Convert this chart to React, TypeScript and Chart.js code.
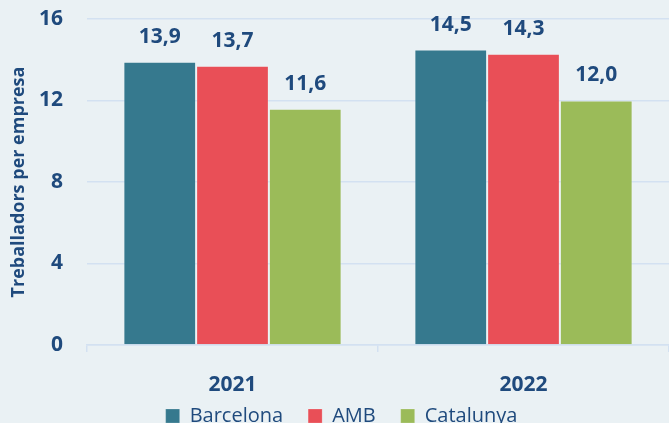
import React, { useEffect, useRef } from "react";
import { Chart, registerables } from "chart.js";

Chart.register(...registerables);

const categories = ["2021", "2022"];
const seriesNames = ["Barcelona", "AMB", "Catalunya"];
const barcelona = [13.9, 14.5];
const amb = [13.7, 14.3];
const catalunya = [11.6, 12.0];
const yTicks = [0, 4, 8, 12, 16];
const yTitle = "Treballadors per empresa";

const colors = ["#36798E", "#E94F57", "#9BBB59"];
const textColor = "#1F4A7D";
const gridColor = "#D3E1F1";
const bgColor = "#EAF1F4";
const FONT = "'Open Sans', sans-serif";

const bgPlugin = {
  id: "bg",
  beforeDraw(chart: any) {
    const { ctx, width, height } = chart;
    ctx.save();
    ctx.fillStyle = bgColor;
    ctx.fillRect(0, 0, width, height);
    ctx.restore();
  },
};

const legendShift = {
  id: "legendShift",
  afterLayout(chart: any) {
    const lg = chart.legend;
    if (!lg) return;
    lg.top -= 15;
    lg.bottom -= 15;
    lg.left += 7;
    lg.right += 7;
  },
};

const labelPlugin = {
  id: "valueLabels",
  afterDatasetsDraw(chart: any) {
    const { ctx } = chart;
    ctx.save();
    ctx.font = `bold 21px ${FONT}`;
    ctx.fillStyle = textColor;
    ctx.textAlign = "center";
    ctx.textBaseline = "middle";
    chart.data.datasets.forEach((ds: any, i: number) => {
      const meta = chart.getDatasetMeta(i);
      meta.data.forEach((el: any, j: number) => {
        const v = ds.data[j] as number;
        ctx.fillText(v.toFixed(1).replace(".", ","), el.x, el.y - 25);
      });
    });
    ctx.restore();
  },
};

export default function App() {
  const ref = useRef<HTMLCanvasElement | null>(null);
  useEffect(() => {
    if (!ref.current) return;
    const data = [barcelona, amb, catalunya];
    const chart = new Chart(ref.current, {
      type: "bar",
      data: {
        labels: categories,
        datasets: seriesNames.map((name, i) => ({
          label: name,
          data: data[i],
          backgroundColor: colors[i],
          borderColor: "rgba(255,255,255,0.2)",
          borderWidth: 1,
          categoryPercentage: 0.75,
          barPercentage: 1,
        })),
      },
      options: {
        responsive: false,
        animation: false,
        layout: { padding: { top: 19, left: 0, right: 0, bottom: 0 } },
        plugins: {
          tooltip: { enabled: false },
          legend: {
            position: "bottom",
            labels: {
              boxWidth: 14,
              boxHeight: 14,
              padding: 25,
              color: textColor,
              font: { family: FONT, size: 20 },
            },
          },
        },
        scales: {
          x: {
            grid: {
              offset: true,
              drawOnChartArea: false,
              drawTicks: true,
              tickLength: 7,
              color: gridColor,
              lineWidth: 1.5,
            },
            border: { display: true, color: gridColor, width: 1.5 },
            ticks: {
              color: textColor,
              padding: 20,
              font: { family: FONT, size: 21, weight: "bold" },
            },
            afterFit(scale: any) {
              scale.height = 51;
            },
          },
          y: {
            min: 0,
            max: 16,
            afterBuildTicks(scale: any) {
              scale.ticks = yTicks.map((v) => ({ value: v }));
            },
            grid: { color: gridColor, lineWidth: 1.5, drawTicks: false },
            border: { display: false },
            ticks: {
              color: textColor,
              padding: 24,
              font: { family: FONT, size: 21, weight: "bold" },
            },
            title: {
              display: true,
              text: yTitle,
              color: textColor,
              padding: { top: 8, bottom: 0 },
              font: { family: FONT, size: 18, weight: "bold" },
            },
            afterFit(scale: any) {
              scale.width = 87;
              scale.paddingTop = 0;
              scale.paddingBottom = 0;
            },
          },
        },
      },
      plugins: [bgPlugin, labelPlugin, legendShift],
    });
    return () => chart.destroy();
  }, []);
  return (
    <div
      style={{
        position: "fixed",
        left: 0,
        top: 0,
        width: 669,
        height: 423,
        overflow: "hidden",
        background: bgColor,
      }}
    >
      <canvas ref={ref} width={669} height={451} style={{ display: "block" }} />
    </div>
  );
}
